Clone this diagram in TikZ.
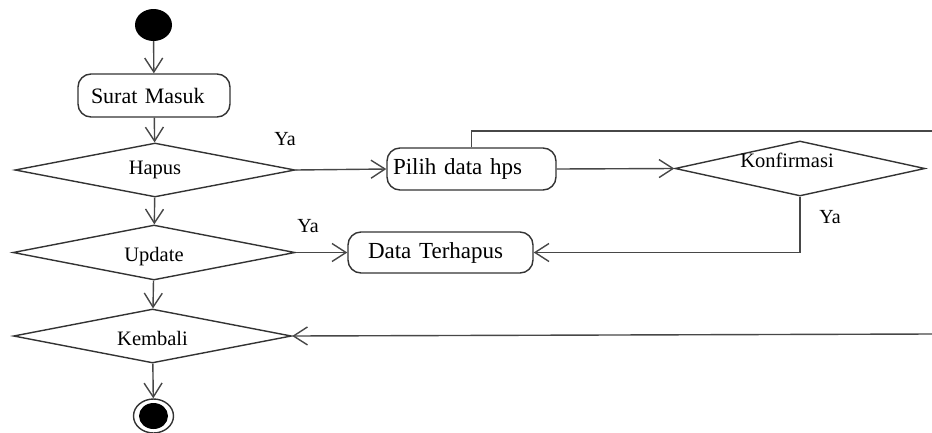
\documentclass[tikz,border=0pt]{standalone}
\usepackage{fontspec}
\setmainfont{Liberation Serif}
\usetikzlibrary{shapes.geometric,arrows.meta}
\tikzset{
  ln/.style={draw=black!72, line width=1.4pt},
  arr/.style={ln, -{Straight Barb[length=14pt,width=18pt]}},
  rbox/.style={draw=black!80, line width=1.4pt, rounded corners=13pt, align=left, inner ysep=0pt, fill=white},
  dia/.style={diamond, draw=black!80, line width=1.4pt, inner sep=0pt, aspect=5, font=\fontsize{20.5}{24}\selectfont},
  dtext/.style={font=\fontsize{20.5}{24}\selectfont, inner sep=0pt},
  lbl/.style={font=\fontsize{20}{24}\selectfont, inner sep=0pt}
}
\begin{document}
\begin{tikzpicture}[x=1pt,y=-1pt]
\useasboundingbox (0,0) rectangle (932,432);
% start / end
\node[ellipse, fill=black, minimum width=37pt, minimum height=32pt, inner sep=0pt] (start) at (153.5,25) {};
\node[ellipse, draw=black!80, line width=1.4pt, minimum width=40pt, minimum height=34pt, inner sep=0pt] (end) at (153.5,416) {};
\fill[black] (end.center) ellipse [x radius=14.5pt, y radius=13pt];
% activity boxes
\node[rbox, inner xsep=13pt, text width=126pt, minimum height=43pt, font=\fontsize{22}{26}\selectfont] (surat) at (154,95.5) {Surat Masuk};
\node[rbox, inner xsep=6pt, text width=157pt, minimum height=42pt, font=\fontsize{23}{27}\selectfont] (pilih) at (471.5,169) {Pilih data hps};
\node[rbox, inner xsep=20pt, text width=145pt, minimum height=41pt, font=\fontsize{23}{27}\selectfont] (data) at (440.5,252.5) {Data Terhapus};
% decisions
\node[dia, minimum width=280pt, minimum height=54pt] (hapus) at (155,170) {Hapus};
\node[dia, minimum width=282pt, minimum height=55pt,
      label={[dtext, yshift=-4pt]center:Update}] (update) at (154,252.5) {};
\node[dia, minimum width=278pt, minimum height=54pt,
      label={[dtext, yshift=-2pt]center:Kembali}] (kembali) at (152.5,336) {};
\node[dia, minimum width=250pt, minimum height=55pt,
      label={[dtext, xshift=-13pt, yshift=8pt]center:Konfirmasi}] (konf) at (800,168.5) {};
% free ends on the right border
\coordinate (r1) at (932,131);
\coordinate (r2) at (932,334);
% connectors
\draw[arr] (start) -- (surat);
\draw[arr] (surat) -- (hapus);
\draw[arr] (hapus) -- (update);
\draw[arr] (update) -- (kembali);
\draw[arr] (kembali) -- (end);
\draw[arr] (hapus.east) -- (pilih.west);
\draw[arr] (update.east) -- (data.west);
\draw[arr] (pilih.east) -- (konf.west);
\draw[arr] (konf.south) |- (data.east);
\draw[ln] (pilih.north) |- (r1);
\draw[arr] (r2) -- (kembali.east);
% labels
\node[lbl] (ya1) at (285,139) {Ya};
\node[lbl] (ya2) at (308,226) {Ya};
\node[lbl] (ya3) at (830,217) {Ya};
\end{tikzpicture}
\end{document}
